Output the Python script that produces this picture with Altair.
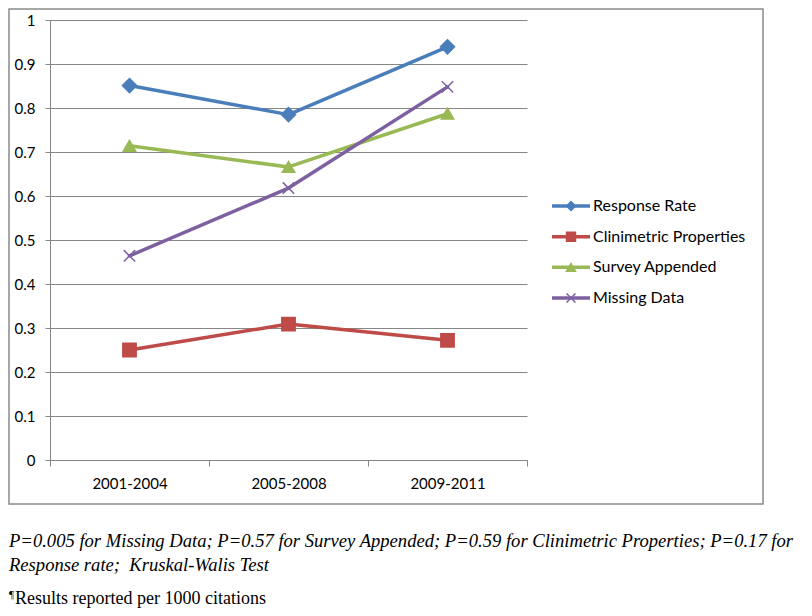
import altair as alt
import pandas as pd

periods = ["2001-2004", "2005-2008", "2009-2011"]
series = ["Response Rate", "Clinimetric Properties", "Survey Appended", "Missing Data"]
response_rate = [0.851, 0.785, 0.939]
clinimetric = [0.250, 0.309, 0.272]
survey_appended = [0.714, 0.666, 0.787]
missing_data = [0.464, 0.618, 0.848]
colors = ["#4A7EBB", "#BE4B48", "#98B954", "#7D60A0"]
shapes = ["diamond", "square", "triangle-up", "M-1,-1L1,1M1,-1L-1,1"]
marker_sizes = [200, 130, 190, 170]
y_ticks = [0, 0.1, 0.2, 0.3, 0.4, 0.5, 0.6, 0.7, 0.8, 0.9, 1]
caption_lines = [
    "P=0.005 for Missing Data; P=0.57 for Survey Appended; P=0.59 for Clinimetric Properties; P=0.17 for",
    "Response rate;\u00a0 Kruskal-Walis Test",
]
footnote_mark = "¶"
footnote = "Results reported per 1000 citations"

values_by_series = [response_rate, clinimetric, survey_appended, missing_data]
rows = []
for s, vals in zip(series, values_by_series):
    for p, v in zip(periods, vals):
        rows.append({"period": p, "series": s, "value": v})
df = pd.DataFrame(rows)
legend_df = pd.DataFrame({"series": series})

FONT = "Lato"
color_scale = alt.Scale(domain=series, range=colors)
shape_scale = alt.Scale(domain=series, range=shapes)
size_scale = alt.Scale(domain=series, range=marker_sizes)

x_enc = alt.X("period:N", sort=periods, title=None,
              scale=alt.Scale(domain=periods, paddingInner=0, paddingOuter=0),
              axis=alt.Axis(labelAngle=0, tickBand="extent", tickSize=6, labelPadding=10,
                            labelFontSize=15, labelFont=FONT, labelColor="#000000",
                            domainColor="#868686", tickColor="#868686", grid=False))
y_enc = alt.Y("value:Q", title=None,
              scale=alt.Scale(domain=[0, 1], nice=False, zero=True),
              axis=alt.Axis(values=y_ticks, format=".1~f", tickSize=5, labelPadding=10,
                            labelFontSize=15, labelFont=FONT, labelColor="#000000",
                            domainColor="#868686", tickColor="#868686",
                            gridColor="#868686", gridWidth=1, grid=True))

base = alt.Chart(df)
lines = base.mark_line(strokeWidth=3.5, strokeJoin="round", strokeCap="round").encode(
    x=x_enc, y=y_enc,
    color=alt.Color("series:N", scale=color_scale, legend=None),
    detail="series:N",
)
points = base.mark_point(filled=True, opacity=1, strokeWidth=1.5).encode(
    x=alt.X("period:N", sort=periods),
    y=alt.Y("value:Q"),
    fill=alt.Fill("series:N", scale=color_scale, legend=None),
    stroke=alt.Stroke("series:N", scale=color_scale, legend=None),
    shape=alt.Shape("series:N", scale=shape_scale, legend=None),
    size=alt.Size("series:N", scale=size_scale, legend=None),
)
main = alt.layer(lines, points)

leg_y = alt.Y("series:N", title=None,
              scale=alt.Scale(type="point", domain=series, range=[186, 278], padding=0), axis=None)
leg = alt.Chart(legend_df)
leg_rule = leg.mark_rule(strokeWidth=3.5).encode(
    x=alt.value(502), x2=alt.value(540), y=leg_y,
    color=alt.Color("series:N", scale=color_scale, legend=None),
)
leg_pts = leg.mark_point(filled=True, opacity=1, strokeWidth=1.5).encode(
    x=alt.value(521), y=leg_y,
    fill=alt.Fill("series:N", scale=color_scale, legend=None),
    stroke=alt.Stroke("series:N", scale=color_scale, legend=None),
    shape=alt.Shape("series:N", scale=shape_scale, legend=None),
    size=alt.value(80),
)
leg_txt = leg.mark_text(align="left", baseline="middle", font=FONT, fontSize=16, color="#000000").encode(
    x=alt.value(543), y=leg_y, text="series:N",
)
legend = alt.layer(leg_rule, leg_pts, leg_txt)

one = alt.Data(values=[{"a": 1}])
border = alt.Chart(one).mark_rect(fillOpacity=0, stroke="#8a8a8a", strokeWidth=1.5).encode(
    x=alt.value(-41), x2=alt.value(713), y=alt.value(-11), y2=alt.value(484),
)
cap1 = alt.Chart(one).mark_text(align="left", baseline="alphabetic", font="Liberation Serif",
                                fontStyle="italic", fontSize=18.6, color="#000000").encode(
    x=alt.value(-41), y=alt.value(527), text=alt.value(caption_lines[0]))
cap2 = alt.Chart(one).mark_text(align="left", baseline="alphabetic", font="Liberation Serif",
                                fontStyle="italic", fontSize=18.6, color="#000000").encode(
    x=alt.value(-41), y=alt.value(551), text=alt.value(caption_lines[1]))
fn_mark = alt.Chart(one).mark_text(align="left", baseline="alphabetic", font="Liberation Serif",
                                   fontSize=11, color="#000000").encode(
    x=alt.value(-41), y=alt.value(578), text=alt.value(footnote_mark))
fn = alt.Chart(one).mark_text(align="left", baseline="alphabetic", font="Liberation Serif",
                              fontSize=18, color="#000000").encode(
    x=alt.value(-35), y=alt.value(584), text=alt.value(footnote))

chart = alt.layer(
    main, legend, border, cap1, cap2, fn_mark, fn
).resolve_scale(y="independent").properties(
    width=477, height=440,
    autosize=alt.AutoSizeParams(type="none"),
    padding={"left": 42, "top": 12, "right": 277, "bottom": 148},
    background="white",
).configure_view(stroke=None)

chart.save("out.html", embed_options={"renderer": "svg", "actions": False})
